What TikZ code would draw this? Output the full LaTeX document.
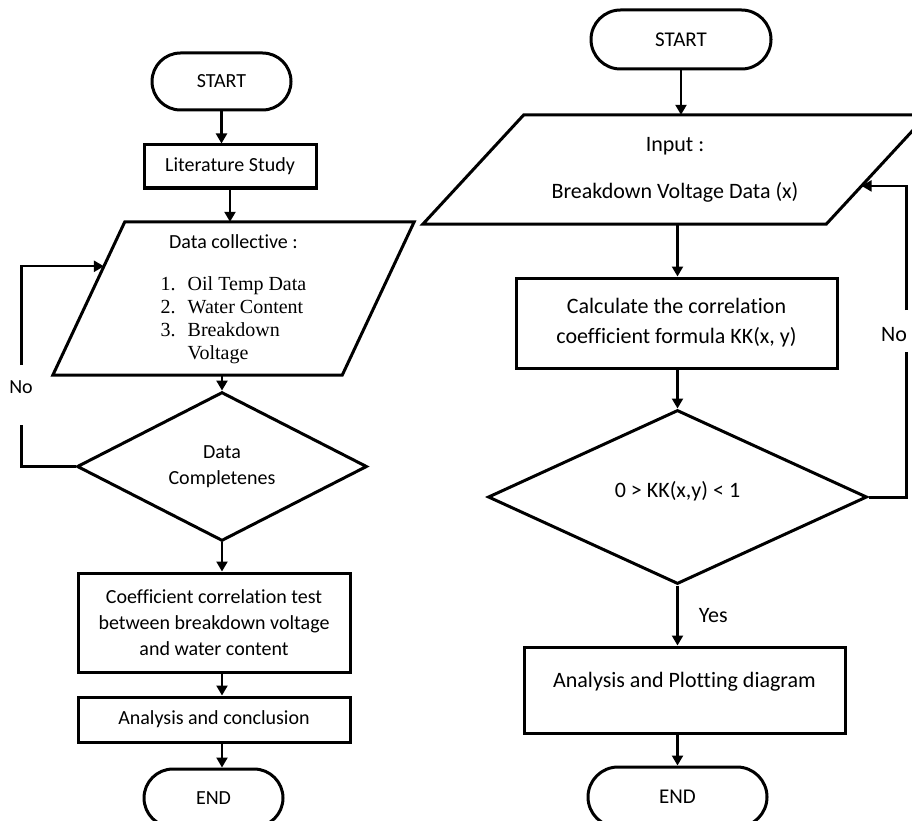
\documentclass[tikz,border=0pt]{standalone}
\usepackage{fontspec}
\setmainfont{Carlito}[Ligatures=NoCommon]
\newfontfamily\listfont{Liberation Serif}
\newcommand\rsize{\fontsize{22}{27}\selectfont}
\usetikzlibrary{shapes.geometric,shapes.misc,arrows.meta,calc}

\begin{document}
\begin{tikzpicture}[x=1pt,y=-1pt,
  every node/.style={font=\fontsize{20}{26}\selectfont, align=center},
  term/.style={draw, line width=3pt, rounded rectangle, inner sep=0pt},
  box/.style={draw, line width=3pt, rectangle, inner sep=0pt},
  io/.style={inner sep=0pt},
  edge/.style={line width=3pt, line join=miter},
  dec/.style={draw, line width=3pt, diamond, inner sep=0pt},
  arr/.style={line width=2.2pt, -{Triangle[length=10pt,width=11pt]}},
  loop/.style={line width=3pt}]
\useasboundingbox (0,0) rectangle (912,821);

\node[term, minimum width=139pt, minimum height=57pt] (st1) at (221.5,81.5) {START};
\node[box, minimum width=172pt, minimum height=43pt] (lit) at (230,166.5) {Literature Study};
\node[io, minimum width=289pt, minimum height=153pt] (data) at (233.5,298.5)
  {\begin{tabular}{@{}r@{\hspace{12pt}}l@{}}
   \multicolumn{2}{c}{Data collective :}\\[16pt]
   \listfont 1. & \listfont Oil Temp Data\\[-3pt]
   \listfont 2. & \listfont Water Content\\[-3pt]
   \listfont 3. & \listfont Breakdown\\[-3pt]
   & \listfont Voltage
   \end{tabular}};
\draw[edge] ([xshift=36pt]data.north west) coordinate (data-tl) -- ([xshift=36pt]data.north east)
  -- ([xshift=-36pt]data.south east) -- ([xshift=-36pt]data.south west) coordinate (data-bl) -- cycle;
\node[dec, minimum width=290pt, minimum height=137pt] (dc) at (222,466.5) {Data\\Completenes};
\node[box, minimum width=272pt, minimum height=99pt] (coef) at (214,622.5) {Coefficient correlation test\\between breakdown voltage\\and water content};
\node[box, minimum width=272pt, minimum height=45pt] (anal) at (214,719.5) {Analysis and conclusion};
\node[term, minimum width=139pt, minimum height=58pt] (en1) at (213.5,798) {END};

\node[term, minimum width=180pt, minimum height=59pt, font=\fontsize{21}{26}\selectfont] (st2) at (681,39.5) {START};
\node[io, minimum width=403pt, minimum height=109pt, font=\rsize] (inp) at (675,169.5) {Input :\\[20pt]Breakdown Voltage Data (x)};
\draw[edge] ([xshift=50.5pt]inp.north west) -- ([xshift=50.5pt]inp.north east) coordinate (inp-tr)
  -- ([xshift=-50.5pt]inp.south east) coordinate (inp-br) -- ([xshift=-50.5pt]inp.south west) -- cycle;
\node[box, minimum width=321pt, minimum height=90pt, font=\rsize] (calc) at (676.5,323) {Calculate the correlation\\[3pt]coefficient formula KK(x, y)};
\node[dec, minimum width=379pt, minimum height=174pt, font=\rsize] (dc2) at (677.5,497) {\raisebox{16pt}{0 > KK(x,y) < 1}};
\node[box, minimum width=321pt, minimum height=86pt, font=\rsize] (plot) at (684.5,690) {\raisebox{20pt}{Analysis and Plotting diagram}};
\node[term, minimum width=179pt, minimum height=60pt, font=\fontsize{21}{26}\selectfont] (en2) at (677.5,797) {END};

\node (no1) at (21,387) {No};
\node[font=\rsize] (no2) at (894,335) {No};

\draw[arr] (st1.south) -- (st1.south |- lit.north);
\draw[arr] (lit.south) -- (lit.south |- data.north);
\draw[arr] (dc.north |- data.south) -- (dc.north);
\draw[arr] (dc.south) -- (dc.south |- coef.north);
\foreach \a/\b in {coef/anal, anal/en1}
  \draw[arr] (dc.south |- \a.south) -- (dc.south |- \b.north);

\draw[arr] (st2.south) -- (st2.south |- inp.north);
\draw[arr] (dc2.north |- inp.south) -- (dc2.north |- calc.north);
\draw[arr] (dc2.north |- calc.south) -- (dc2.north);
\draw[arr] (dc2.south) -- (dc2.south |- plot.north) node[midway, right=17pt, font=\rsize] {Yes};
\draw[arr] (dc2.south |- plot.south) -- (dc2.south |- en2.north);

\coordinate (hit1) at ($(data-bl)!0.71!(data-tl)$);
\coordinate (hit2) at ($(inp-br)!0.35!(inp-tr)$);
\draw[loop] (dc.west) -- ++(-54,0) coordinate (l1) -- ([yshift=-38pt]no1.center -| l1);
\draw[loop, arr] ([yshift=22pt]no1.center -| l1) |- (hit1);
\draw[loop] (dc2.east) -- ++(38,0) coordinate (r1) -- ([yshift=-17pt]no2.center -| r1);
\draw[loop, arr] ([yshift=25pt]no2.center -| r1) |- (hit2);
\end{tikzpicture}
\end{document}
